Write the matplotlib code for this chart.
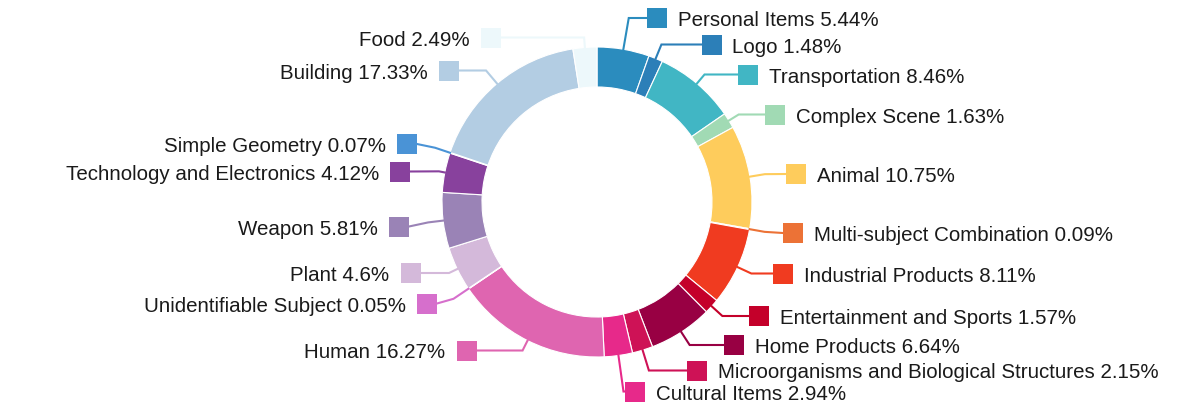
import numpy as np
import matplotlib
matplotlib.use("Agg")
import matplotlib.pyplot as plt

# ---- data (clockwise from 12 o'clock) ----
categories = ["Personal Items", "Logo", "Transportation", "Complex Scene", "Animal",
              "Multi-subject Combination", "Industrial Products", "Entertainment and Sports",
              "Home Products", "Microorganisms and Biological Structures", "Cultural Items",
              "Human", "Unidentifiable Subject", "Plant", "Weapon",
              "Technology and Electronics", "Simple Geometry", "Building", "Food"]
percents = [5.44, 1.48, 8.46, 1.63, 10.75, 0.09, 8.11, 1.57, 6.64, 2.15, 2.94,
            16.27, 0.05, 4.6, 5.81, 4.12, 0.07, 17.33, 2.49]
percent_labels = ["5.44%", "1.48%", "8.46%", "1.63%", "10.75%", "0.09%", "8.11%", "1.57%",
                  "6.64%", "2.15%", "2.94%", "16.27%", "0.05%", "4.6%", "5.81%", "4.12%",
                  "0.07%", "17.33%", "2.49%"]
colors = ["#2b8cbe", "#2c7fb8", "#41b6c4", "#a1dab4", "#fecc5c", "#ec7236", "#f03b20",
          "#c4002a", "#980043", "#ce1256", "#e7298a", "#df65b0", "#d66fcc", "#d4b9da",
          "#9a83b6", "#88419d", "#4a93d6", "#b3cde3", "#edf8fb"]

# ---- layout (pixel coordinates, y downward) ----
W, H = 1200, 417
CX, CY, R, RING = 597, 202, 155, 40
label_pos = [(656.5, 18), (711.5, 44.5), (748, 74.5), (774.5, 114.5), (796, 174),
             (793, 233), (783, 273.5), (759, 316), (734, 345), (697, 370.5), (635, 391.5),
             (466.5, 350.5), (427, 303.5), (410.5, 273), (399, 226.5), (400, 171.5),
             (407, 144), (449, 70.5), (490.5, 37.5)]
SQ = 20
GAP = 11
BASE_OFF = 8

fig = plt.figure(figsize=(W / 100, H / 100), dpi=100)
ax = fig.add_axes([0, 0, 1, 1])

ax.pie(percents, colors=colors, startangle=90, counterclock=False,
       center=(CX, H - CY), radius=R,
       wedgeprops=dict(width=RING, edgecolor="white", linewidth=0.8))
ax.set_xlim(0, W)
ax.set_ylim(0, H)
ax.set_aspect("equal")
ax.axis("off")

cum = np.cumsum([0] + percents[:-1])
for i, (cat, p, pl, col) in enumerate(zip(categories, percents, percent_labels, colors)):
    mid = (cum[i] + p / 2) / 100 * 2 * np.pi
    dx, dy = np.sin(mid), -np.cos(mid)  # pixel space (y down)
    sx, sy = CX + R * dx, CY + R * dy
    lx, ly = label_pos[i]
    right = lx > CX
    if abs(dy) > 1e-6:
        t = (ly - sy) / dy
    else:
        t = 10
    t = max(6, min(t, 40))
    if abs(t * dx) > 15:
        t = 15 / abs(dx)
    ex, ey = sx + t * dx, sy + t * dy
    edge_x = lx - SQ / 2 if right else lx + SQ / 2
    ax.plot([sx, ex, edge_x], [H - sy, H - ey, H - ly], color=col, lw=1.5,
            solid_joinstyle="miter", zorder=3)
    ax.add_patch(plt.Rectangle((lx - SQ / 2, H - ly - SQ / 2), SQ, SQ,
                               facecolor=col, edgecolor="none", zorder=4))
    txt = f"{cat} {pl}"
    if right:
        ax.text(lx + SQ / 2 + GAP, H - ly - BASE_OFF, txt, ha="left", va="baseline",
                fontsize=14.75, family="Liberation Sans", color="#1a1a1a")
    else:
        ax.text(lx - SQ / 2 - GAP, H - ly - BASE_OFF, txt, ha="right", va="baseline",
                fontsize=14.75, family="Liberation Sans", color="#1a1a1a")

fig.savefig("out.png", dpi=100, facecolor="white")
